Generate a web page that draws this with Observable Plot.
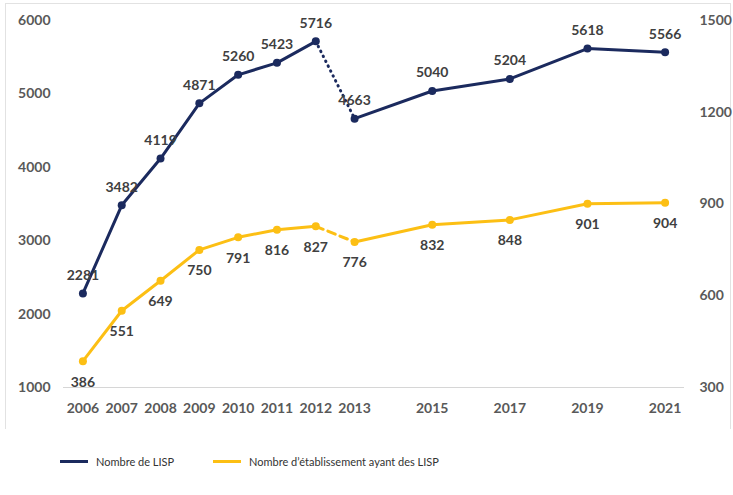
<!DOCTYPE html>
<html>
<head>
<meta charset="utf-8">
<script src="https://cdn.jsdelivr.net/npm/d3@7"></script>
<script src="https://cdn.jsdelivr.net/npm/@observablehq/plot@0.6"></script>
<style>
  html, body { margin: 0; padding: 0; background: #fff; }
  #wrap { position: relative; width: 733px; height: 495px; overflow: hidden; font-family: Lato, "Open Sans", sans-serif; }
  #frame { position: absolute; left: 5px; top: 3px; width: 726px; height: 426px; border: 1px solid #e2e2e2; border-bottom: none; box-sizing: border-box; }
  #chart { position: absolute; left: 0; top: 0; }
  .leg { position: absolute; top: 455px; font-size: 11px; color: #333; display: flex; align-items: center; white-space: nowrap; }
  .sw { display: inline-block; width: 28px; height: 3px; margin-right: 8px; }
</style>
</head>
<body>
<div id="wrap">
  <div id="frame"></div>
  <div id="chart"></div>
  <div class="leg" style="left:60px"><span class="sw" style="background:#1b2a5e"></span>Nombre de LISP</div>
  <div class="leg" style="left:213px"><span class="sw" style="background:#fcbf14"></span>Nombre d’établissement ayant des LISP</div>
</div>
<script>
const years = [2006, 2007, 2008, 2009, 2010, 2011, 2012, 2013, 2015, 2017, 2019, 2021];
const lisp = [2281, 3482, 4119, 4871, 5260, 5423, 5716, 4663, 5040, 5204, 5618, 5566];
const etab = [386, 551, 649, 750, 791, 816, 827, 776, 832, 848, 901, 904];
const leftTicks = [1000, 2000, 3000, 4000, 5000, 6000];
const rightTicks = [300, 600, 900, 1200, 1500];

const NAVY = "#1b2a5e", GOLD = "#fcbf14", TXT = "#404040";
// right axis (300..1500) mapped onto left axis (1000..6000)
const toLeft = v => 1000 + (v - 300) * 5000 / 1200;

const A = years.map((y, i) => ({year: y, v: lisp[i]}));
const B = years.map((y, i) => ({year: y, v: etab[i], y: toLeft(etab[i])}));

const seg = (d, a, b) => d.filter(r => r.year >= a && r.year <= b);

const chart = Plot.plot({
  width: 733,
  height: 430,
  marginLeft: 63,
  marginRight: 49,
  marginTop: 20,
  marginBottom: 43,
  style: {fontFamily: "Lato, 'Open Sans', sans-serif", fontSize: "14px", fontWeight: "700", color: TXT, background: "transparent"},
  x: {domain: [2005.5, 2021.5]},
  y: {domain: [1000, 6000]},
  marks: [
    Plot.ruleY([1000], {stroke: "#d6d6d6", strokeWidth: 1}),
    Plot.axisX({ticks: years, tickFormat: d => String(d), tickSize: 0, tickPadding: 16, label: null, fill: "#595959"}),
    Plot.axisY({anchor: "left", ticks: leftTicks, tickFormat: d => String(d), tickSize: 0, tickPadding: 13, label: null, fill: "#595959"}),
    Plot.axisY({anchor: "right", ticks: rightTicks.map(toLeft), tickFormat: (d, i) => String(rightTicks[i]), tickSize: 0, tickPadding: 15, label: null, fill: "#595959"}),
    // LISP
    Plot.line(seg(A, 2006, 2012), {x: "year", y: "v", stroke: NAVY, strokeWidth: 3}),
    Plot.line(seg(A, 2012, 2013), {x: "year", y: "v", stroke: NAVY, strokeWidth: 3, strokeDasharray: "0.5 5", strokeLinecap: "round"}),
    Plot.line(seg(A, 2013, 2021), {x: "year", y: "v", stroke: NAVY, strokeWidth: 3}),
    Plot.dot(A, {x: "year", y: "v", r: 4, fill: NAVY}),
    Plot.text(A, {x: "year", y: "v", text: d => String(d.v), dy: -18, fill: TXT, fontWeight: 700, fontSize: 14}),
    // établissements
    Plot.line(seg(B, 2006, 2012), {x: "year", y: "y", stroke: GOLD, strokeWidth: 3}),
    Plot.line(seg(B, 2012, 2013), {x: "year", y: "y", stroke: GOLD, strokeWidth: 3, strokeDasharray: "8 5"}),
    Plot.line(seg(B, 2013, 2021), {x: "year", y: "y", stroke: GOLD, strokeWidth: 3}),
    Plot.dot(B, {x: "year", y: "y", r: 4, fill: GOLD}),
    Plot.text(B, {x: "year", y: "y", text: d => String(d.v), dy: 21, fill: TXT, fontWeight: 700, fontSize: 14})
  ]
});
document.getElementById("chart").appendChild(chart);
</script>
</body>
</html>
